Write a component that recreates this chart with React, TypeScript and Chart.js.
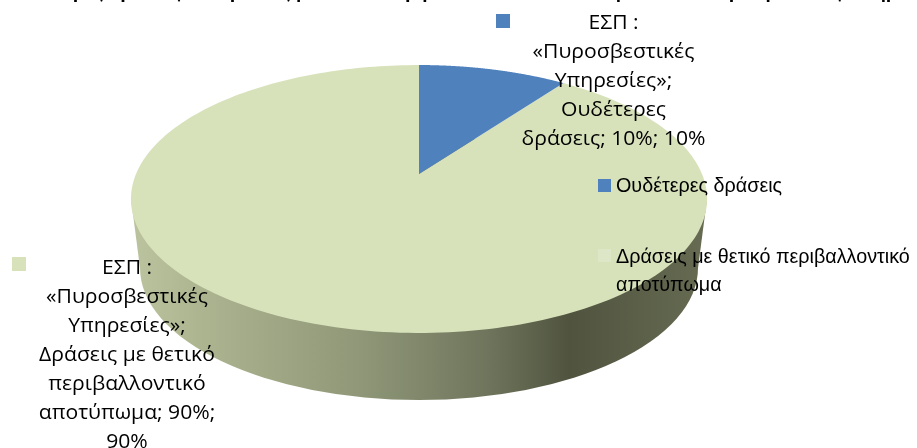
import React, { useEffect, useRef } from "react";
import { Chart, registerables } from "chart.js";

Chart.register(...registerables);

const categories = ["Ουδέτερες δράσεις", "Δράσεις με θετικό περιβαλλοντικό αποτύπωμα"];
const shares = [10, 90];
const sliceColors = ["#4f81bd", "#d7e2bb"];
const legendKeyColors = ["#4f81bd", "#dde6c7"];
const legendLines = [["Ουδέτερες δράσεις"], ["Δράσεις με θετικό περιβαλλοντικό", "αποτύπωμα"]];
const blueLabel = ["ΕΣΠ :", "«Πυροσβεστικές", "Υπηρεσίες»;", "Ουδέτερες", "δράσεις; 10%; 10%"];
const greenLabel = ["ΕΣΠ :", "«Πυροσβεστικές", "Υπηρεσίες»;", "Δράσεις με θετικό", "περιβαλλοντικό", "αποτύπωμα; 90%;", "90%"];
const titleText = "Ουδέτερες δράσεις και δράσεις με θετικό περιβαλλοντικό αποτύπωμα: ΕΣΠ «Πυροσβεστικές Υπηρεσίες»";

const CX = 419, APEX_Y = 174, A = 283, B = 129.3, K = 0.1866;
const project = (angle: number) => {
  const u = Math.cos(angle), v = -Math.sin(angle);
  const d = 1 + K * v;
  return [CX + (A * u) / d, APEX_Y - (B * v) / d];
};

const pie3d = {
  id: "pie3d",
  beforeDatasetDraw(chart: any) {
    const ctx = chart.ctx;
    const meta = chart.getDatasetMeta(0);
    ctx.save();
    const g = ctx.createLinearGradient(131, 0, 707, 0);
    g.addColorStop(0, "#bcc49f");
    g.addColorStop(0.12, "#acb490");
    g.addColorStop(0.4, "#8f9778");
    g.addColorStop(0.62, "#6f755c");
    g.addColorStop(0.76, "#50543f");
    g.addColorStop(1, "#666b52");
    ctx.fillStyle = g;
    ctx.beginPath();
    ctx.ellipse(419, 268, 279, 132, 0, 0, Math.PI * 2);
    ctx.fill();
    ctx.beginPath();
    ctx.moveTo(131, 199);
    ctx.lineTo(140, 268);
    ctx.lineTo(698, 268);
    ctx.lineTo(707, 199);
    ctx.closePath();
    ctx.fill();
    meta.data.slice().reverse().forEach((arc: any, idx: number) => {
      const i = meta.data.length - 1 - idx;
      const { startAngle, endAngle } = arc.getProps(["startAngle", "endAngle"], true);
      ctx.beginPath();
      ctx.moveTo(CX, APEX_Y);
      const n = 240;
      for (let s = 0; s <= n; s++) {
        const [x, y] = project(startAngle + ((endAngle - startAngle) * s) / n);
        ctx.lineTo(x, y);
      }
      ctx.closePath();
      ctx.fillStyle = sliceColors[i];
      ctx.fill();
    });
    ctx.restore();
    return false;
  },
  afterDraw(chart: any) {
    const ctx = chart.ctx;
    ctx.save();
    ctx.fillStyle = "#000";
    ctx.textBaseline = "alphabetic";

    ctx.font = "bold 19px 'Liberation Sans'";
    ctx.textAlign = "center";
    ctx.fillText(titleText, 482, -2.5);

    const scaled = (t: string, x: number, y: number, sx: number) => {
      ctx.save();
      ctx.translate(x, y);
      ctx.scale(sx, 1);
      ctx.fillText(t, 0, 0);
      ctx.restore();
    };

    ctx.font = "20.5px 'Open Sans'";
    ctx.textAlign = "center";
    blueLabel.forEach((t, i) => scaled(t, 613.5, 28.5 + i * 29.2, 1.03));
    greenLabel.forEach((t, i) => scaled(t, 127, 274 + i * 29, 1.03));
    ctx.fillStyle = legendKeyColors[0];
    ctx.fillRect(496, 14, 14, 14);
    ctx.fillStyle = "#d7e2bb";
    ctx.fillRect(12, 257, 14, 14);

    ctx.fillStyle = legendKeyColors[0];
    ctx.fillRect(598, 179, 13, 13);
    ctx.fillStyle = legendKeyColors[1];
    ctx.fillRect(598, 249, 13, 13);
    ctx.fillStyle = "#000";
    ctx.textAlign = "left";
    ctx.font = "21px 'Liberation Sans'";
    scaled(legendLines[0][0], 616, 192, 0.94);
    scaled(legendLines[1][0], 616, 263, 0.94);
    scaled(legendLines[1][1], 616, 291, 0.94);
    ctx.restore();
  },
};

export default function App() {
  const ref = useRef<HTMLCanvasElement>(null);
  useEffect(() => {
    const chart = new Chart(ref.current!, {
      type: "pie",
      data: {
        labels: categories,
        datasets: [{ data: shares, backgroundColor: sliceColors, borderWidth: 0 }],
      },
      options: {
        responsive: false,
        animation: false,
        plugins: { legend: { display: false }, title: { display: false }, tooltip: { enabled: false } },
      },
      plugins: [pie3d],
    } as any);
    return () => chart.destroy();
  }, []);
  return (
    <div style={{ position: "absolute", left: 0, top: 0, width: 917, height: 448 }}>
      <canvas ref={ref} width={917} height={448} style={{ display: "block" }} />
    </div>
  );
}
